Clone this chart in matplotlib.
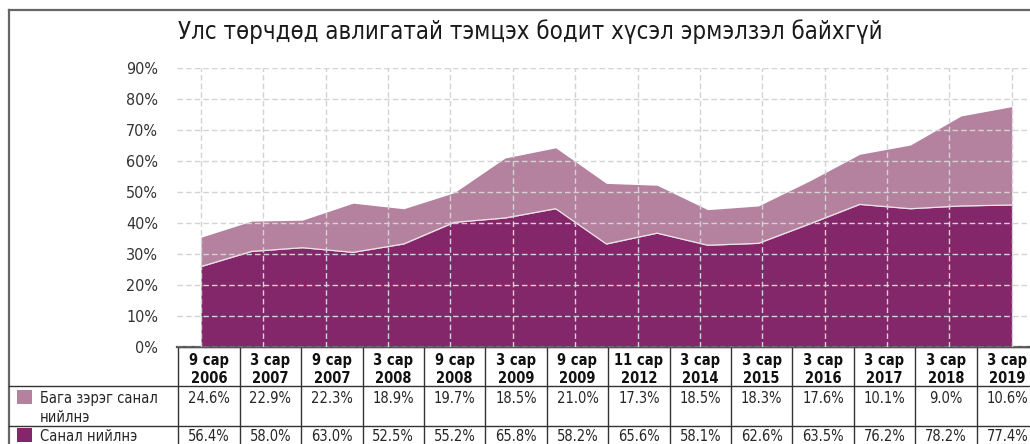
import numpy as np
import matplotlib
matplotlib.use("Agg")
import matplotlib.pyplot as plt
from matplotlib import font_manager as fm

# ---------------- data ----------------
title = "Улс төрчдөд авлигатай тэмцэх бодит хүсэл эрмэлзэл байхгүй"
periods_top = ["9 сар", "3 сар", "9 сар", "3 сар", "9 сар", "3 сар", "9 сар",
               "11 сар", "3 сар", "3 сар", "3 сар", "3 сар", "3 сар", "3 сар"]
periods_year = ["2006", "2007", "2007", "2008", "2008", "2009", "2009",
                "2012", "2014", "2015", "2016", "2017", "2018", "2019"]
series_names = ["Бага зэрэг санал\nнийлнэ", "Санал нийлнэ"]
somewhat = [24.6, 22.9, 22.3, 18.9, 19.7, 18.5, 21.0, 17.3, 18.5, 18.3, 17.6, 10.1, 9.0, 10.6]
agree = [56.4, 58.0, 63.0, 52.5, 55.2, 65.8, 58.2, 65.6, 58.1, 62.6, 63.5, 76.2, 78.2, 77.4]
# area outline as drawn in the picture (17 vertices)
area_agree = [25.9, 30.8, 32.0, 30.5, 33.2, 40.2, 41.6, 44.6, 33.2, 36.7,
              32.8, 33.4, 39.6, 46.0, 44.6, 45.5, 45.8]
area_total = [35.4, 40.6, 40.9, 46.4, 44.6, 49.8, 61.0, 64.3, 52.8, 52.2,
              44.3, 45.5, 53.5, 62.2, 65.2, 74.6, 77.6]
yticks = [0, 10, 20, 30, 40, 50, 60, 70, 80, 90]

DARK = "#84266a"
LIGHT = "#b4829f"
TXT = "#262626"

names = {f.name for f in fm.fontManager.ttflist}
if "Liberation Sans Narrow" in names:
    FONT = "Liberation Sans Narrow"
    STRETCH = "normal"
else:
    FONT = "DejaVu Sans"
    STRETCH = "condensed"
plt.rcParams["font.family"] = [FONT, "DejaVu Sans"]
plt.rcParams["font.stretch"] = STRETCH

W, H = 1030, 444
fig = plt.figure(figsize=(W / 100, H / 100), dpi=100)

# overlay axes in pixel coordinates for frame + table
ov = fig.add_axes([0, 0, 1, 1])
ov.set_xlim(0, W)
ov.set_ylim(H, 0)
ov.axis("off")

# chart axes
px_left, px_right = 176.7, 1040.0
px_top, px_bottom = 68.3, 346.7
ax = fig.add_axes([px_left / W, (H - px_bottom) / H,
                   (px_right - px_left) / W, (px_bottom - px_top) / H])
ax.patch.set_alpha(0)
step = 62.36
ax.set_xlim(-(201 - px_left) / step, (px_right - 201) / step)
ax.set_ylim(0, 90)

x_area = np.linspace(0, len(periods_year) - 1, len(area_total))
ax.fill_between(x_area, 0, area_agree, color=DARK, lw=0, zorder=1)
ax.fill_between(x_area, area_agree, area_total, color=LIGHT, lw=0, zorder=1)
ax.plot(x_area, area_agree, color="#efe3ea", lw=0.9, zorder=1.5)

ax.set_yticks(yticks)
ax.set_yticklabels([f"{v}%" for v in yticks], fontsize=11.5, color="#333333")
ax.set_xticks(np.arange(len(periods_year)))
ax.set_xticklabels([])
ax.tick_params(axis="both", length=0)
ax.tick_params(axis="y", pad=13.5)
ax.set_axisbelow(False)
ax.grid(True, axis="both", color="#d3d3d3", lw=1.0, ls=(0, (4, 2.2)), zorder=3)
for s in ["top", "right", "left"]:
    ax.spines[s].set_visible(False)
ax.spines["bottom"].set_color("#555555")
ax.spines["bottom"].set_linewidth(1.6)

# title
t = fig.text(178 / W, 1 - 39.5 / H, title, fontsize=18, color="#1a1a1a",
             ha="left", va="baseline")
fig.canvas.draw()
w = t.get_window_extent().width
t.set_fontsize(18 * 702 / w)

# frame
LC = "#333333"
ov.plot([9.3, 9.3], [10, H], color="#666666", lw=1.6)
ov.plot([9.3, W], [10, 10], color="#666666", lw=1.6)

# table lines
col0 = 178.3
cw = 61.41
for k in range(len(periods_year) + 1):
    xv = col0 + cw * k
    ov.plot([xv, xv], [347, H], color=LC, lw=1.0)
for yv in [385.5, 425.5]:
    ov.plot([9.3, W], [yv, yv], color=LC, lw=1.0)
ov.plot([col0, W], [347, 347], color=LC, lw=1.0)

FS = 10.5
# table text
for k in range(len(periods_year)):
    cx = col0 + cw * (k + 0.5)
    ov.text(cx, 365, periods_top[k], ha="center", va="baseline", fontsize=FS,
            color="#111111", fontweight="bold")
    ov.text(cx, 382.7, periods_year[k], ha="center", va="baseline", fontsize=FS,
            color="#111111", fontweight="bold")
    ov.text(cx, 403, f"{somewhat[k]:.1f}%", ha="center", va="baseline",
            fontsize=FS, color=TXT)
    ov.text(cx, 441, f"{agree[k]:.1f}%", ha="center", va="baseline",
            fontsize=FS, color=TXT)

# legend cells
ov.add_patch(plt.Rectangle((16.7, 390), 15, 14, color=LIGHT, lw=0))
ov.add_patch(plt.Rectangle((16.7, 428), 15, 14, color=DARK, lw=0))
l1, l2 = series_names[0].split("\n")
ov.text(40, 403, l1, ha="left", va="baseline", fontsize=FS, color=TXT)
ov.text(40, 421.5, l2, ha="left", va="baseline", fontsize=FS, color=TXT)
ov.text(40, 441, series_names[1], ha="left", va="baseline", fontsize=FS, color=TXT)

fig.savefig("out.png", dpi=100)
